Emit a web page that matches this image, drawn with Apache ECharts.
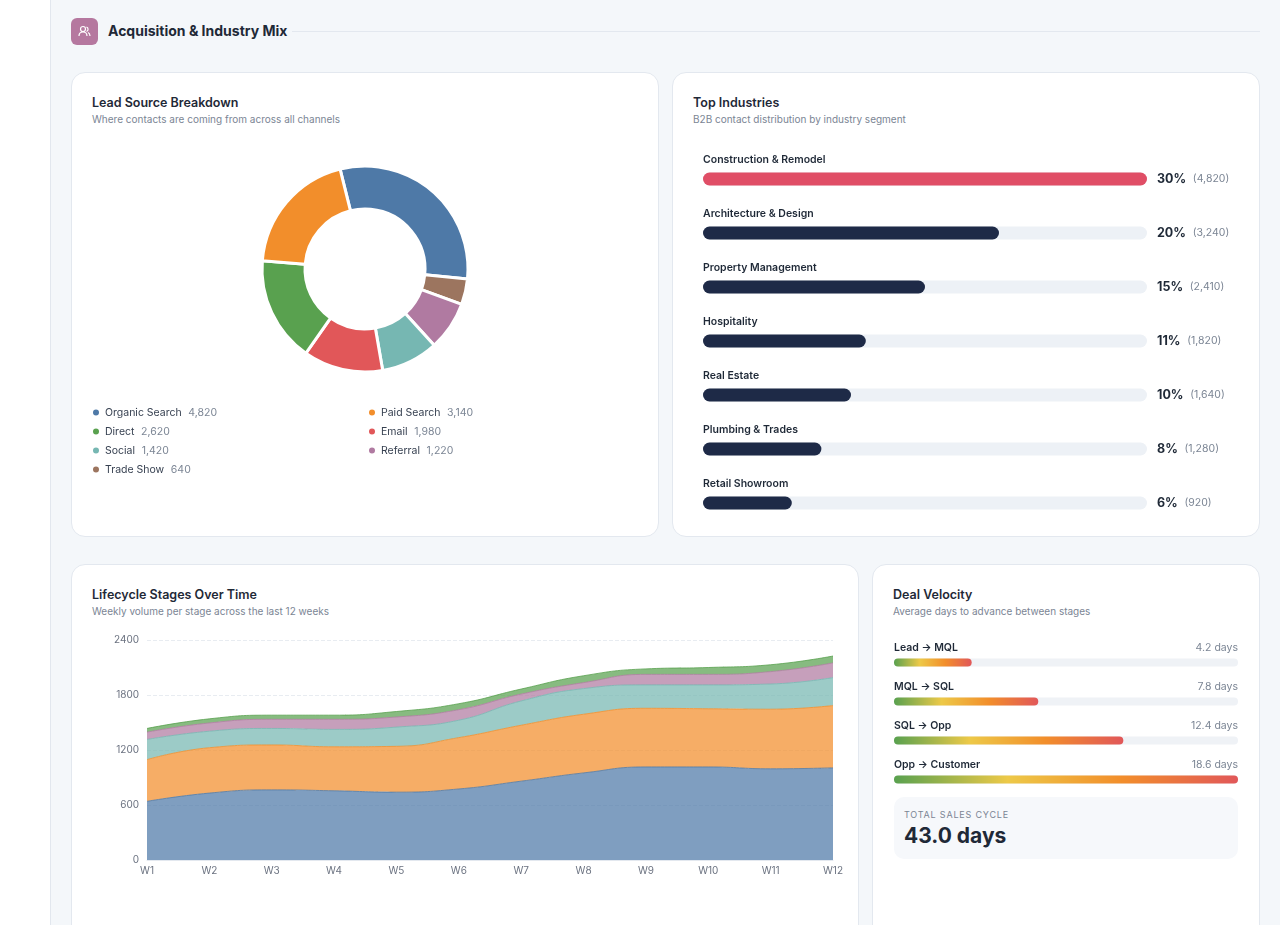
<!DOCTYPE html>
<html><head><meta charset="utf-8">
<script src="https://cdn.jsdelivr.net/npm/echarts@6/dist/echarts.min.js"></script>
<style>
body{margin:0;width:1280px;height:925px;background:#f4f7fa;font-family:Inter,"Noto Sans",sans-serif;position:relative;overflow:hidden;color:#1f2937}
.side{position:absolute;left:0;top:0;width:50px;height:925px;background:#fff;border-right:1px solid #e2e7ee}
.icon{position:absolute;left:71px;top:18px;width:27px;height:27px;border-radius:6px;background:#b5789f}
.htitle{position:absolute;left:108px;top:22px;font-size:14px;font-weight:700;color:#1f2937}
.hline{position:absolute;left:292px;right:20px;top:31px;height:1px;background:#e3e8ef}
.card{position:absolute;background:#fff;border:1px solid #e3e8ef;border-radius:14px}
.ct{position:absolute;left:20px;top:22px;font-size:12.5px;font-weight:600;color:#1f2937}
.cs{position:absolute;left:20px;top:40px;font-size:10px;color:#7b8594}
.ch{position:absolute}
.tot{position:absolute;left:894px;top:797px;width:344px;height:62px;background:#f6f8fb;border-radius:10px}
.tot .l{position:absolute;left:10px;top:12px;font-size:9px;letter-spacing:0.8px;color:#7b8594}
.tot .v{position:absolute;left:10px;top:26px;font-size:21px;font-weight:700;color:#1f2937}
</style></head><body>
<div class="side"></div>
<div class="icon"><svg width="27" height="27" viewBox="0 0 27 27"><g fill="none" stroke="#fff" stroke-width="1.2"><circle cx="12" cy="11" r="2.5"/><path d="M8 18c0-2.5 1.8-4 4-4s4 1.5 4 4"/><path d="M15.5 9a2.4 2.4 0 0 1 0 4.5M17 14.5c1.3.6 2 1.8 2 3.5"/></g></svg></div>
<div class="htitle">Acquisition &amp; Industry Mix</div><div class="hline"></div>
<div class="card" style="left:71px;top:72px;width:586px;height:463px"><div class="ct">Lead Source Breakdown</div><div class="cs">Where contacts are coming from across all channels</div></div>
<div class="card" style="left:672px;top:72px;width:586px;height:463px"><div class="ct">Top Industries</div><div class="cs">B2B contact distribution by industry segment</div></div>
<div class="card" style="left:71px;top:564px;width:786px;height:380px"><div class="ct">Lifecycle Stages Over Time</div><div class="cs">Weekly volume per stage across the last 12 weeks</div></div>
<div class="card" style="left:872px;top:564px;width:386px;height:380px"><div class="ct">Deal Velocity</div><div class="cs">Average days to advance between stages</div></div>
<div class="tot"><div class="l">TOTAL SALES CYCLE</div><div class="v">43.0 days</div></div>
<div id="c1" class="ch" style="left:72px;top:130px;width:586px;height:400px"></div>
<div id="c2" class="ch" style="left:673px;top:142px;width:585px;height:390px"></div>
<div id="c3" class="ch" style="left:72px;top:625px;width:786px;height:265px"></div>
<div id="c4" class="ch" style="left:873px;top:630px;width:385px;height:170px"></div>
<script>
// Lead sources
const sourceNames=["Organic Search","Trade Show","Referral","Social","Email","Direct","Paid Search"];
const sourceValues=[4820,640,1220,1420,1980,2620,3140];
const sourceColors=["#4e79a7","#9c755f","#b07aa1","#76b7b2","#e15759","#59a14f","#f28e2b"];
const legendOrder=["Organic Search","Paid Search","Direct","Email","Social","Referral","Trade Show"];
// Industries
const industries=["Construction & Remodel","Architecture & Design","Property Management","Hospitality","Real Estate","Plumbing & Trades","Retail Showroom"];
const industryPct=[30,20,15,11,10,8,6];
const industryCount=[4820,3240,2410,1820,1640,1280,920];
// Lifecycle
const weeks=["W1","W2","W3","W4","W5","W6","W7","W8","W9","W10","W11","W12"];
const stageNames=["Lead","MQL","SQL","Opportunity","Customer"];
const stageLead=[640,730,765,755,740,775,860,950,1015,1015,995,1005];
const stageMQL=[455,495,490,480,500,560,610,640,640,635,650,680];
const stageSQL=[220,180,180,190,210,190,265,280,255,260,275,305];
const stageOpp=[80,90,100,110,110,115,75,65,115,115,135,160];
const stageCust=[40,45,45,45,60,65,55,75,60,75,75,75];
const stageColors=["#4e79a7","#f28e2b","#76b7b2","#b07aa1","#59a14f"];
// Velocity
const velNames=["Lead → MQL","MQL → SQL","SQL → Opp","Opp → Customer"];
const velDays=[4.2,7.8,12.4,18.6];

const fmt=v=>v.toLocaleString('en-US');
const F='Inter, "Noto Sans", sans-serif';

const c1=echarts.init(document.getElementById('c1'));
c1.setOption({
  legend:{data:legendOrder,left:14,top:268,width:560,itemWidth:8,itemHeight:8,icon:'circle',itemGap:0,
    formatter:n=>'{n|'+n+'}  {v|'+fmt(sourceValues[sourceNames.indexOf(n)])+'}',
    textStyle:{width:262,height:19,lineHeight:19,rich:{n:{fontSize:10.5,color:'#374151',fontFamily:F},v:{fontSize:10.5,color:'#7b8594',fontFamily:F}}}},
  series:[{type:'pie',center:[293,139],radius:[60,103],startAngle:104,clockwise:true,label:{show:false},
    itemStyle:{borderColor:'#fff',borderWidth:3},
    data:sourceNames.map((n,i)=>({name:n,value:sourceValues[i],itemStyle:{color:sourceColors[i]}}))}]
});

const c2=echarts.init(document.getElementById('c2'));
c2.setOption({
  grid:{left:30,right:111,top:10,height:378},
  xAxis:{type:'value',max:30,show:false},
  yAxis:{type:'category',data:industries,inverse:true,show:false},
  series:[
    {type:'bar',barWidth:13,silent:true,data:industryPct.map(()=>30),itemStyle:{color:'#edf1f6',borderRadius:7},
     label:{show:true,position:'right',distance:10,formatter:p=>'{a|'+industryPct[p.dataIndex]+'%}  {b|('+fmt(industryCount[p.dataIndex])+')}',
       rich:{a:{fontSize:12.5,fontWeight:700,color:'#1f2937',fontFamily:F},b:{fontSize:10.5,color:'#7b8594',fontFamily:F}}}},
    {type:'bar',barWidth:13,barGap:'-100%',data:industryPct.map((v,i)=>({value:v,itemStyle:{color:i===0?'#e04e66':'#1e2a47'}})),
     itemStyle:{borderRadius:7},
     label:{show:true,position:'insideLeft',distance:0,offset:[0,-19],formatter:p=>industries[p.dataIndex],fontSize:10.5,fontWeight:600,color:'#1f2937',fontFamily:F}}
  ]
});

const c3=echarts.init(document.getElementById('c3'));
const stageData=[stageLead,stageMQL,stageSQL,stageOpp,stageCust];
c3.setOption({
  grid:{left:75,right:25,top:15,height:220},
  xAxis:{type:'category',data:weeks,boundaryGap:false,axisLine:{lineStyle:{color:'#e3e8ef'}},axisTick:{show:false},
    axisLabel:{color:'#6b7280',fontSize:10,fontFamily:F,margin:6}},
  yAxis:{type:'value',min:0,max:2400,interval:600,axisLabel:{color:'#6b7280',fontSize:10,fontFamily:F,formatter:v=>String(v)},
    splitLine:{lineStyle:{type:'dashed',color:'#e8ecf1'}}},
  series:stageData.map((d,i)=>({name:stageNames[i],type:'line',stack:'s',smooth:true,symbol:'none',data:d,
    lineStyle:{width:1,color:stageColors[i],opacity:0.8},areaStyle:{color:stageColors[i],opacity:0.72}}))
});

const c4=echarts.init(document.getElementById('c4'));
const grad=new echarts.graphic.LinearGradient(0,0,1,0,[{offset:0,color:'#59a14f'},{offset:0.33,color:'#edc948'},{offset:0.66,color:'#f28e2b'},{offset:1,color:'#e15759'}]);
c4.setOption({
  grid:{left:21,right:20,top:13,height:156},
  xAxis:{type:'value',max:18.6,show:false},
  yAxis:{type:'category',data:velNames,inverse:true,show:false},
  series:[
    {type:'bar',barWidth:8,silent:true,data:velDays.map(()=>18.6),itemStyle:{color:'#eff2f6',borderRadius:4},
     label:{show:true,position:'insideRight',distance:0,offset:[0,-15],formatter:p=>velDays[p.dataIndex].toFixed(1)+' days',fontSize:10.5,color:'#7b8594',fontFamily:F}},
    {type:'bar',barWidth:8,barGap:'-100%',data:velDays,itemStyle:{color:grad,borderRadius:4},
     label:{show:true,position:'insideLeft',distance:0,offset:[0,-15],formatter:p=>velNames[p.dataIndex],fontSize:10.5,fontWeight:600,color:'#1f2937',fontFamily:F}}
  ]
});
</script></body></html>
